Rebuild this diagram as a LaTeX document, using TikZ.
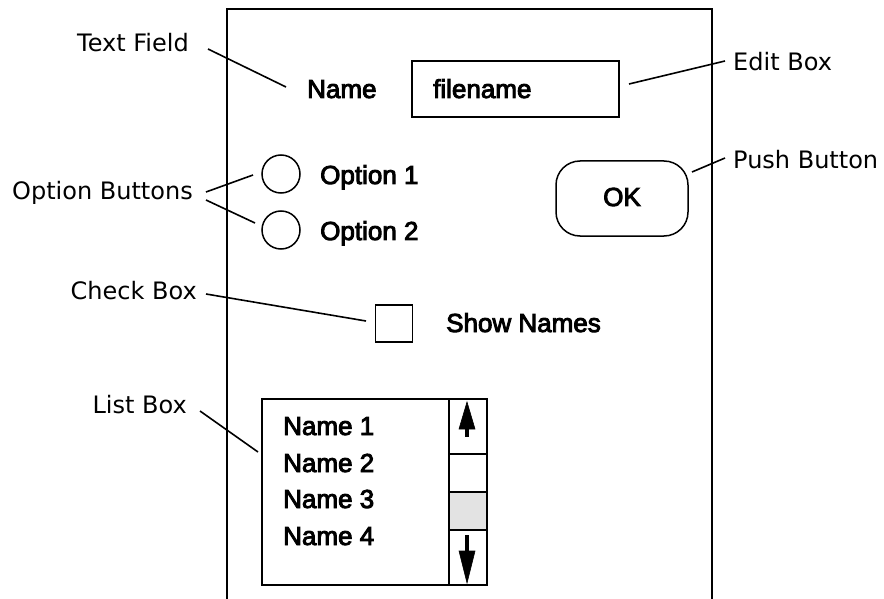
\documentclass[tikz,border=0pt]{standalone}
\usepackage{fontspec}
\newfontfamily\lblfont{DejaVu Sans}
\newfontfamily\uifont[FakeBold=3.5]{Liberation Sans}
\begin{document}
\begin{tikzpicture}[x=1pt,y=-1pt,line join=miter,
  frame/.style={line width=1.6pt},
  widget/.style={draw,line width=1.5pt,inner sep=0pt},
  leader/.style={line width=1.6pt},
  callout/.style={font=\lblfont\fontsize{24}{28}\selectfont,inner sep=0pt},
  uitext/.style={font=\uifont\fontsize{26}{30}\selectfont,inner sep=0pt},
  radio/.style={widget,circle,minimum size=38pt},
  arrowfill/.style={fill=black,draw=black,line width=0.6pt}]
\useasboundingbox (0,0) rectangle (884,599);

% dialog window, open at the bottom
\draw[frame] (227,599) -- (227,9) -- (712,9) -- (712,599);

% text field and edit box
\node[uitext,anchor=base west] (name) at (307,98) {Name};
\node[widget,minimum width=207pt,minimum height=56pt] (edit) at (515.5,89) {};
\node[uitext,anchor=base west] (fname) at (433,98) {filename};

% option buttons
\node[radio] (opt1) at (281,174) {};
\node[radio] (opt2) at (281,230) {};
\node[uitext,anchor=base west] (opt1t) at (320,184) {Option 1};
\node[uitext,anchor=base west] (opt2t) at (320,240) {Option 2};

% push button
\node[widget,rounded corners=24pt,minimum width=132pt,minimum height=75pt] (ok) at (622,198.5) {};
\node[uitext] (okt) at (622,197) {OK};

% check box
\node[widget,minimum width=37pt,minimum height=37pt] (chk) at (394,323.5) {};
\node[uitext,anchor=base west] (chkt) at (446,332) {Show Names};

% list box with scroll bar
\node[widget,minimum width=225pt,minimum height=186pt] (list) at (374.5,492) {};
\coordinate (sbtop) at (449,399);
\coordinate (sbbot) at (449,585);
\draw[line width=1.5pt] (sbtop) -- (sbbot);
\fill[gray!22] (449.8,492) rectangle (486.2,530);
\draw[line width=1.5pt] (449,454) -- (487,454);
\draw[line width=1.5pt] (449,492) -- (487,492);
\draw[line width=1.5pt] (449,530) -- (487,530);
% scroll arrows
\filldraw[arrowfill] (467,402) -- (475,429) -- (459,429) -- cycle;
\draw[line width=3.2pt] (467,424) -- (467,437);
\filldraw[arrowfill] (467,583) -- (459,551) -- (475,551) -- cycle;
\draw[line width=3.2pt] (467,535) -- (467,556);
\node[uitext,anchor=base west] (n1) at (283,435) {Name 1};
\node[uitext,anchor=base west] (n2) at (283,472) {Name 2};
\node[uitext,anchor=base west] (n3) at (283,508) {Name 3};
\node[uitext,anchor=base west] (n4) at (283,545) {Name 4};

% callout labels
\node[callout,anchor=base east] (lbltf) at (189,52) {Text Field};
\node[callout,anchor=base east] (lblopt) at (193,200) {Option Buttons};
\node[callout,anchor=base east] (lblchk) at (197,299) {Check Box};
\node[callout,anchor=base east] (lbllist) at (187,413) {List Box};
\node[callout,anchor=base west] (lbledit) at (733,71) {Edit Box};
\node[callout,anchor=base west] (lblpush) at (733,168) {Push Button};

% leader line end points
\coordinate (tfA) at (208,49);   \coordinate (tfB) at (286,87);
\coordinate (opA) at (206,192);  \coordinate (opB) at (253,175);
\coordinate (opC) at (206,200);  \coordinate (opD) at (255,223);
\coordinate (ckA) at (206,294);  \coordinate (ckB) at (366,321);
\coordinate (lbA) at (200,411);  \coordinate (lbB) at (258,452);
\coordinate (edA) at (725,61);   \coordinate (edB) at (629,84);
\coordinate (pbA) at (725,158);  \coordinate (pbB) at (692,172);

\draw[leader] (tfA) -- (tfB);
\draw[leader] (opA) -- (opB);
\draw[leader] (opC) -- (opD);
\draw[leader] (ckA) -- (ckB);
\draw[leader] (lbA) -- (lbB);
\draw[leader] (edA) -- (edB);
\draw[leader] (pbA) -- (pbB);
\end{tikzpicture}
\end{document}
